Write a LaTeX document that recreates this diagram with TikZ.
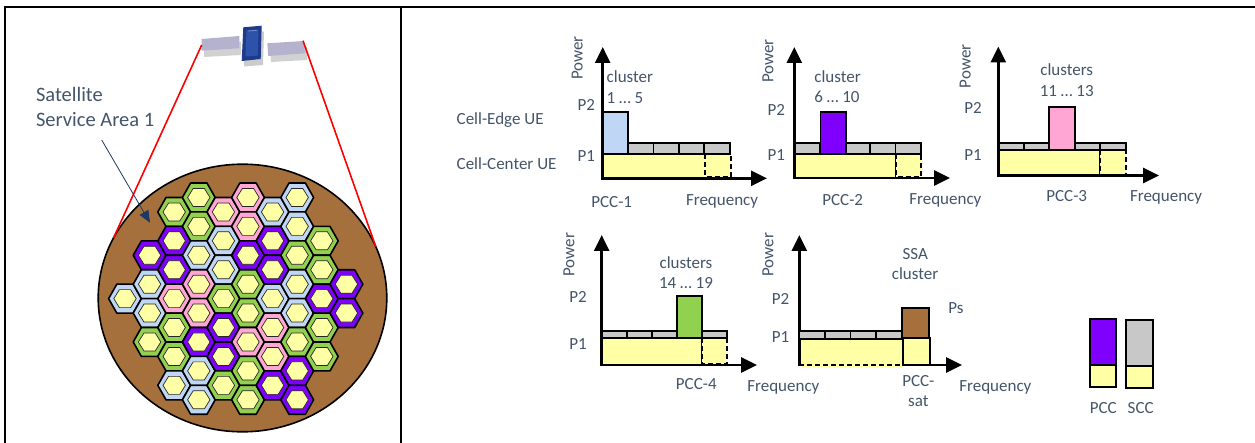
\documentclass[tikz,border=0pt]{standalone}
\usepackage{fontspec}
\setmainfont{Carlito}
\usetikzlibrary{arrows.meta}
\definecolor{txt}{HTML}{44546A}
\definecolor{hb}{HTML}{BFD7F5}
\definecolor{hp}{HTML}{8000FF}
\definecolor{hg}{HTML}{92D050}
\definecolor{hk}{HTML}{FFA6D5}
\definecolor{cy}{HTML}{FFFFA6}
\definecolor{cgray}{HTML}{C8C8C8}
\definecolor{cbrown}{HTML}{A5703C}
\definecolor{navy}{HTML}{1F3864}
\definecolor{panel}{HTML}{B4B2CC}
\definecolor{satbody}{HTML}{1F3A8A}
\definecolor{satface}{HTML}{2D52AA}
\begin{document}
\begin{tikzpicture}[x=1pt,y=-1pt,
  lbl/.style={font=\fontsize{17}{20}\selectfont,text=txt,inner sep=0pt,outer sep=0pt},
  biglbl/.style={font=\fontsize{20.5}{24}\selectfont,text=txt,inner sep=0pt,outer sep=0pt},
  axes/.style={line width=2.8pt,{Triangle[length=16pt,width=15pt]}-{Triangle[length=16pt,width=15pt]}},
  blk/.style={draw=black,line width=1.8pt},
  dbox/.style={draw=black,line width=1.8pt,dash pattern=on 5pt off 3pt},
  hexout/.style={draw=black,line width=1.6pt,line join=round},
  hexin/.style={draw=black!85,line width=0.7pt,fill=cy},
  frame/.style={line width=2pt}]
\useasboundingbox (0,0) rectangle (1255,443);

% table frame
\draw[frame] (5,450) -- (5,7) -- (1262,7);
\draw[frame] (401,7) -- (401,450);

% ---------- service area ----------
\fill[cbrown] (242.5,298) ellipse [x radius=144.3, y radius=133.8];
\draw[line width=1.6pt] (242.5,298) ellipse [x radius=144.3, y radius=133.8];

\foreach \k/\m/\c in {0/7/hb,
  1/4/hp,1/6/hb,1/8/hb,1/10/hg,
  2/1/hg,2/3/hp,2/5/hp,2/7/hk,2/9/hg,2/11/hg,2/13/hb,
  3/0/hg,3/2/hg,3/4/hb,3/6/hk,3/8/hk,3/10/hp,3/12/hb,3/14/hb,
  4/1/hk,4/3/hb,4/5/hb,4/7/hg,4/9/hp,4/11/hp,4/13/hg,
  5/0/hk,5/2/hk,5/4/hp,5/6/hg,5/8/hg,5/10/hk,5/12/hg,5/14/hg,
  6/1/hb,6/3/hp,6/5/hp,6/7/hb,6/9/hk,6/11/hk,6/13/hp,
  7/0/hb,7/2/hb,7/4/hg,7/6/hb,7/8/hb,7/10/hg,7/12/hp,7/14/hp,
  8/3/hg,8/5/hg,8/7/hp,8/9/hg,8/11/hg,
  9/6/hp,9/8/hp} {
  \pgfmathsetmacro\hx{125+24.6*\k}
  \pgfmathsetmacro\hy{197.5+14.45*\m}
  \draw[hexout,fill=\c] (\hx-16.4,\hy) -- ++(8.2,-14.45) -- ++(16.4,0) -- ++(8.2,14.45)
     -- ++(-8.2,14.45) -- ++(-16.4,0) -- cycle;
  \draw[hexin] (\hx-11.2,\hy) -- ++(5.6,-9) -- ++(11.2,0) -- ++(5.6,9)
     -- ++(-5.6,9) -- ++(-11.2,0) -- cycle;
}

% satellite
\fill[black,opacity=0.18] (204,44) -- (241,41.5) -- (241,55) -- (204,57) -- cycle;
\fill[black,opacity=0.18] (270,49) -- (307,47) -- (307,60) -- (271,62) -- cycle;
\fill[black,opacity=0.2] (245,33) -- (264,31.5) -- (263,65) -- (244,66.5) -- cycle;
\fill[panel] (201.7,39) -- (239.3,36) -- (239.3,48.3) -- (201.7,50.7) -- cycle;
\fill[panel] (267.3,43.3) -- (304,41) -- (305,53.3) -- (268.3,56) -- cycle;
\fill[satbody] (243.3,27.3) -- (261.7,25.7) -- (260.7,59) -- (241.7,61) -- cycle;
\fill[satface] (246.5,30.5) -- (258.5,29.5) -- (257.8,55.5) -- (245.5,56.5) -- cycle;
\draw[white,opacity=0.35,line width=0.8pt] (248,31) -- (257,30.3);

% coverage lines
\coordinate (satL) at (201.7,45);
\coordinate (satR) at (303,40.7);
\coordinate (edgeL) at (113.5,238);
\coordinate (edgeR) at (375.8,246.7);
\draw[red,line width=1.6pt] (satL) -- (edgeL);
\draw[red,line width=1.6pt] (satR) -- (edgeR);

\node[biglbl,anchor=base west] (sat1) at (36,101.7) {Satellite};
\node[biglbl,anchor=base west] (sat2) at (36,126.7) {Service Area 1};
\coordinate (arrS) at (101.7,140);
\coordinate (arrE) at (150,222.7);
\draw[navy,line width=0.8pt,-{Triangle[length=12pt,width=10pt]}] (arrS) -- (arrE);

% ---------- PCC-1 ----------
\fill[cy,blk] (602.7,154.3) rectangle (707,178.3);
\fill[cy,dbox] (705,154.3) rectangle (731,176.7);
\foreach \i in {1,...,4}
  \filldraw[fill=cgray,blk] ({602.7+25.4*\i},143.3) rectangle ({602.7+25.4*(\i+1)},154.3);
\filldraw[fill=hb,blk] (602.7,111.7) rectangle (628.1,154.3);
\coordinate (o1) at (602.7,178.3);
\coordinate (y1) at (602.7,47);
\coordinate (x1) at (767,178.3);
\draw[axes] (y1) -- (o1) -- (x1);
\node[lbl,rotate=90,anchor=base west] (pw1) at (582.7,80) {Power};
\node[lbl,anchor=base west] (cl1) at (606.7,82.7) {cluster};
\node[lbl,anchor=base west] (cn1) at (606.7,103.3) {1 … 5};
\node[lbl,anchor=base east] (p21) at (595,111) {P2};
\node[lbl,anchor=base east] (p11) at (595,161.7) {P1};
\node[lbl,anchor=base west] (ce) at (456.7,124.3) {Cell-Edge UE};
\node[lbl,anchor=base west] (cc) at (456.7,170) {Cell-Center UE};
\node[lbl,anchor=base] (pcc1) at (611.7,207.7) {PCC-1};
\node[lbl,anchor=base west] (fq1) at (686,205.7) {Frequency};

% ---------- PCC-2 ----------
\fill[cy,blk] (794.3,154.3) rectangle (896,178);
\fill[cy,dbox] (896,154.3) rectangle (921,176.7);
\foreach \i in {0,2,3,4}
  \filldraw[fill=cgray,blk] ({794.3+25.3*\i},143.3) rectangle ({794.3+25.3*(\i+1)},154.3);
\filldraw[fill=hp,blk] (820.5,111.7) rectangle (845.6,154.3);
\coordinate (o2) at (794.3,178);
\coordinate (y2) at (794.3,47);
\coordinate (x2) at (950,178);
\draw[axes] (y2) -- (o2) -- (x2);
\node[lbl,rotate=90,anchor=base west] (pw2) at (773.3,83) {Power};
\node[lbl,anchor=base west] (cl2) at (814.3,82.7) {cluster};
\node[lbl,anchor=base west] (cn2) at (814.3,102.7) {6 … 10};
\node[lbl,anchor=base east] (p22) at (785,116) {P2};
\node[lbl,anchor=base east] (p12) at (785,161) {P1};
\node[lbl,anchor=base] (pcc2) at (842.7,205.7) {PCC-2};
\node[lbl,anchor=base west] (fq2) at (909.3,205) {Frequency};

% ---------- PCC-3 ----------
\fill[cy,blk] (998.3,150) rectangle (1100,175.5);
\fill[cy,dbox] (1100,150) rectangle (1126,175);
\foreach \i in {0,1,3,4}
  \filldraw[fill=cgray,blk] ({998.3+25.5*\i},143.3) rectangle ({998.3+25.5*(\i+1)},150);
\filldraw[fill=hk,blk] (1049.3,107.3) rectangle (1074.8,150);
\coordinate (o3) at (998.3,175.5);
\coordinate (y3) at (998.3,46.5);
\coordinate (x3) at (1159,175.5);
\draw[axes] (y3) -- (o3) -- (x3);
\node[lbl,rotate=90,anchor=base west] (pw3) at (970.7,88.3) {Power};
\node[lbl,anchor=base] (cl3) at (1066.7,76) {clusters};
\node[lbl,anchor=base] (cn3) at (1066.7,96.7) {11 … 13};
\node[lbl,anchor=base east] (p23) at (981.7,113.3) {P2};
\node[lbl,anchor=base east] (p13) at (981.7,160.7) {P1};
\node[lbl,anchor=base] (pcc3) at (1066.7,201.7) {PCC-3};
\node[lbl,anchor=base west] (fq3) at (1130,201.7) {Frequency};

% ---------- PCC-4 ----------
\fill[cy,blk] (601.7,338.3) rectangle (701.7,365);
\fill[cy,dbox] (701.7,338.3) rectangle (726.7,364);
\foreach \i in {0,1,2,4}
  \filldraw[fill=cgray,blk] ({601.7+25*\i},330.7) rectangle ({601.7+25*(\i+1)},338.3);
\filldraw[fill=hg,blk] (676.7,295.7) rectangle (701.7,338.3);
\coordinate (o4) at (601.7,365);
\coordinate (y4) at (601.7,235);
\coordinate (x4) at (757,365);
\draw[axes] (y4) -- (o4) -- (x4);
\node[lbl,rotate=90,anchor=base west] (pw4) at (574.3,276.7) {Power};
\node[lbl,anchor=base] (cl4) at (686,268.3) {clusters};
\node[lbl,anchor=base] (cn4) at (686,288.3) {14 … 19};
\node[lbl,anchor=base east] (p24) at (586.7,302.7) {P2};
\node[lbl,anchor=base east] (p14) at (586.7,349) {P1};
\node[lbl,anchor=base] (pcc4) at (696.3,389) {PCC-4};
\node[lbl,anchor=base west] (fq4) at (747.3,391.7) {Frequency};

% ---------- PCC-sat ----------
\coordinate (o5) at (799.3,365);
\coordinate (y5) at (799.3,235);
\coordinate (x5) at (962,365);
\draw[axes] (y5) -- (o5) -- (x5);
\fill[cy] (800.8,339.3) rectangle (903.3,366.6);
\draw[dbox] (799.3,339.3) -- (903.3,339.3);
\draw[dbox] (799.3,365) -- (903.3,365);
\filldraw[fill=cy,blk] (903.3,338.3) rectangle (930,365);
\foreach \i in {0,...,3}
  \filldraw[fill=cgray,blk] ({799.3+25.6*\i},330.7) rectangle ({799.3+25.6*(\i+1)},339.3);
\filldraw[fill=cbrown,blk] (901.7,307.7) rectangle (929,338.3);
\node[lbl,rotate=90,anchor=base west] (pw5) at (773.3,276.7) {Power};
\node[lbl,anchor=base] (ssa) at (915.3,259.3) {SSA};
\node[lbl,anchor=base] (cl5) at (915,280) {cluster};
\node[lbl,anchor=base east] (p25) at (789.3,305) {P2};
\node[lbl,anchor=base east] (p15) at (789.3,342.7) {P1};
\node[lbl,anchor=base west] (ps) at (948.3,314) {Ps};
\node[lbl,anchor=base] (pcc5a) at (918.3,386.7) {PCC-};
\node[lbl,anchor=base] (pcc5b) at (918.3,406.7) {sat};
\node[lbl,anchor=base west] (fq5) at (959.3,391.7) {Frequency};

% ---------- legend ----------
\filldraw[fill=hp,blk] (1090,319) rectangle (1116,365);
\filldraw[fill=cy,blk] (1090,365) rectangle (1116,387.3);
\filldraw[fill=cgray,blk] (1126,320) rectangle (1153.3,366);
\filldraw[fill=cy,blk] (1126,366) rectangle (1153.3,388.3);
\node[lbl,anchor=base] (lgp) at (1103.3,413.3) {PCC};
\node[lbl,anchor=base] (lgs) at (1140.7,413.3) {SCC};
\end{tikzpicture}
\end{document}
